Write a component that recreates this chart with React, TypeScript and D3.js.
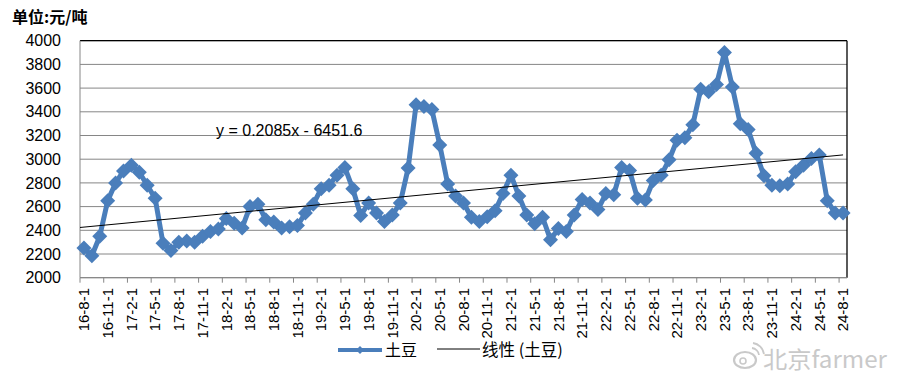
import React from "react";
import * as d3 from "d3";

// ---- data ----
const startMonth = new Date(2016, 7, 1);
const endMonth = new Date(2024, 8, 1);
const months: Date[] = d3.timeMonth.range(startMonth, endMonth); // 2016-08 .. 2024-08 (97)

const potatoPrice: number[] = [
  2250, 2185, 2350, 2650, 2800, 2900, 2950, 2890, 2780, 2670, 2290, 2230,
  2300, 2310, 2300, 2350, 2390, 2410, 2500, 2460, 2420, 2600, 2620, 2490,
  2470, 2420, 2430, 2440, 2545, 2620, 2750, 2780, 2865, 2930, 2750, 2525,
  2630, 2545, 2475, 2530, 2630, 2925, 3460, 3445, 3420, 3120, 2790, 2690,
  2630, 2510, 2475, 2515, 2565, 2710, 2865, 2690, 2530, 2455, 2510, 2320,
  2415, 2390, 2530, 2660, 2630, 2575, 2710, 2700, 2930, 2905, 2670, 2655,
  2820, 2865, 2995, 3160, 3180, 3290, 3590, 3570, 3630, 3900, 3610, 3300,
  3250, 3050, 2860, 2780, 2775, 2790, 2895, 2950, 3005, 3035, 2650, 2545,
  2545,
];

const yTicks: number[] = [2000, 2200, 2400, 2600, 2800, 3000, 3200, 3400, 3600, 3800, 4000];
const trendSlope = 0.2085;
const trendIntercept = -6451.6;
const trendLabel = "y = 0.2085x - 6451.6";
const unitLabel = "单位:元/吨";
const seriesName = "土豆";
const trendName = "线性 (土豆)";
const watermark = "北京farmer";

const fmtLabel = (d: Date) => `${String(d.getFullYear()).slice(2)}-${d.getMonth() + 1}-${d.getDate()}`;
const excelSerial = (d: Date) => (Date.UTC(d.getFullYear(), d.getMonth(), d.getDate()) - Date.UTC(1899, 11, 30)) / 86400000;

const W = 897;
const H = 378;
const L = 80, R = 847, T = 40.7, B = 277.7;
const BLUE = "#4A7EBB";
const FONT = "'Liberation Sans', Arial, 'Noto Sans CJK SC', sans-serif";
const CJK = "'Noto Sans CJK SC', 'Liberation Sans', sans-serif";

export default function App() {
  const x = d3.scaleBand<number>().domain(months.map((_, i) => i)).range([L, R]).padding(0);
  const bw = x.bandwidth();
  const cx = (i: number) => (x(i) as number) + bw / 2;
  const y = d3.scaleLinear().domain([2000, 4000]).range([B, T]);

  const line = d3.line<number>().x((_, i) => cx(i)).y((v) => y(v));
  const diamond = (s: number) => `M0,${-s}L${s},0L0,${s}L${-s},0Z`;

  // trend line (Excel date-serial based equation)
  const n = months.length;
  const t0 = trendSlope * excelSerial(months[0]) + trendIntercept;
  const t1 = trendSlope * excelSerial(months[n - 1]) + trendIntercept;
  const px0 = cx(0), px1 = cx(n - 1);
  const py0 = y(t0), py1 = y(t1);
  const slopePx = (py1 - py0) / (px1 - px0);
  const trendStartY = py0 + slopePx * (L - px0);

  const labelIdx = months.map((_, i) => i).filter((i) => i % 3 === 0);

  return (
    <svg width={W} height={H} style={{ position: "absolute", left: 0, top: 0, background: "#fff" }}>
      <rect x={0} y={0} width={W} height={H} fill="#fff" />
      {/* title */}
      <text x={12} y={23} fontFamily={CJK} fontWeight="bold" fontSize={16} fill="#000">{unitLabel}</text>

      {/* gridlines */}
      {yTicks.map((t) => (
        <line key={t} x1={L} x2={R} y1={y(t)} y2={y(t)} stroke="#868686" strokeWidth={1} />
      ))}
      {/* plot border */}
      <line x1={L} x2={R} y1={T} y2={T} stroke="#000" strokeWidth={1.3} />
      <line x1={R} x2={R} y1={T} y2={B} stroke="#000" strokeWidth={1.3} />
      {/* axes */}
      <line x1={L} x2={L} y1={T} y2={B} stroke="#868686" strokeWidth={1} />
      <line x1={L} x2={R} y1={B} y2={B} stroke="#868686" strokeWidth={1} />
      {labelIdx.map((i) => (
        <line key={"t" + i} x1={x(i) as number} x2={x(i) as number} y1={B} y2={B + 5} stroke="#868686" strokeWidth={1} />
      ))}

      {/* y tick labels */}
      {yTicks.map((t) => (
        <text key={"yl" + t} x={61} y={y(t)} dy="0.35em" textAnchor="end" fontFamily={FONT} fontSize={16} fill="#000">{t}</text>
      ))}

      {/* x tick labels */}
      {labelIdx.map((i) => (
        <text
          key={"xl" + i}
          transform={`translate(${cx(i)},${288}) rotate(-90)`}
          dy="0.35em"
          textAnchor="end"
          fontFamily={FONT}
          fontSize={15}
          fill="#000"
        >
          {fmtLabel(months[i])}
        </text>
      ))}

      {/* series */}
      <path d={line(potatoPrice) || ""} fill="none" stroke={BLUE} strokeWidth={5} strokeLinejoin="round" />
      {potatoPrice.map((v, i) => (
        <path key={"m" + i} d={diamond(7.5)} transform={`translate(${cx(i)},${y(v)})`} fill={BLUE} />
      ))}

      {/* trend line */}
      <line x1={L} y1={trendStartY} x2={px1} y2={py1} stroke="#000" strokeWidth={1} />
      <text x={216} y={136} fontFamily={FONT} fontSize={16} fill="#000">{trendLabel}</text>

      {/* legend */}
      <line x1={338} x2={382} y1={350} y2={350} stroke={BLUE} strokeWidth={4} />
      <path d={diamond(4)} transform="translate(360,350)" fill={BLUE} />
      <text x={385} y={356} fontFamily={CJK} fontSize={16} fill="#000">{seriesName}</text>
      <line x1={437} x2={480} y1={349} y2={349} stroke="#000" strokeWidth={1} />
      <text x={482} y={356} fontFamily={CJK} fontSize={16.5} fill="#000">{trendName}</text>

      {/* watermark */}
      <g opacity={0.9}>
        <ellipse cx={745} cy={360} rx={11} ry={8} fill="none" stroke="#c4c4c4" strokeWidth={2.2} />
        <circle cx={743} cy={361} r={3} fill="none" stroke="#c4c4c4" strokeWidth={1.6} />
        <path d="M752,348 A8,8 0 0 1 759,355" fill="none" stroke="#c4c4c4" strokeWidth={1.8} />
        <path d="M753,343 A13,13 0 0 1 764,354" fill="none" stroke="#c4c4c4" strokeWidth={1.8} />
        <text x={763} y={368} fontFamily="'Noto Sans CJK SC', 'Liberation Sans', sans-serif" fontSize={23} fill="#c4c4c4" textLength={124} lengthAdjust="spacingAndGlyphs">{watermark}</text>
      </g>
    </svg>
  );
}
